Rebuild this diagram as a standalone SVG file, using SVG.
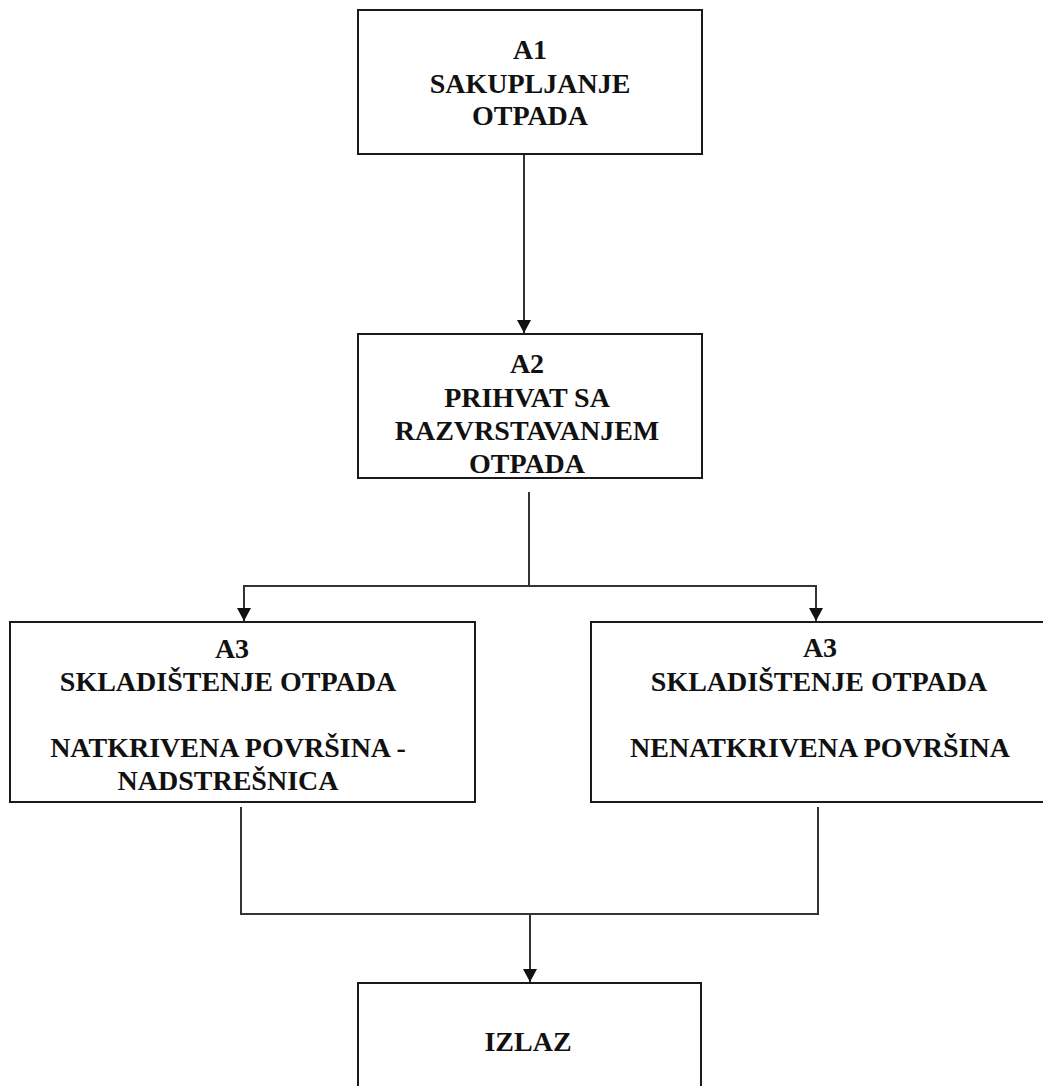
<svg xmlns="http://www.w3.org/2000/svg" width="1043" height="1086" viewBox="0 0 1043 1086">
<style>
.box{fill:#fff;stroke:#1a1a1a;stroke-width:2}
.lbl{font-family:"Liberation Serif","Times New Roman",serif;font-weight:bold;font-size:28px;fill:#111;text-anchor:middle}
.wire{fill:none;stroke:#333;stroke-width:2}
</style>
<defs>
<marker id="arr" markerUnits="userSpaceOnUse" markerWidth="14" markerHeight="14" refX="13" refY="7" orient="auto">
<path d="M0,0 L13,7 L0,14 Z" fill="#111"/>
</marker>
</defs>
<rect width="1043" height="1086" fill="#fff"/>
<g id="connectors">
<line class="wire" x1="524" y1="154" x2="524" y2="333" marker-end="url(#arr)"/>
<polyline class="wire" points="529,492 529,586"/>
<polyline class="wire" points="243,586 817,586"/>
<line class="wire" x1="244" y1="586" x2="244" y2="621" marker-end="url(#arr)"/>
<line class="wire" x1="816" y1="586" x2="816" y2="621" marker-end="url(#arr)"/>
<polyline class="wire" points="241,807 241,914 818,914 818,807"/>
<line class="wire" x1="530" y1="914" x2="530" y2="982" marker-end="url(#arr)"/>
</g>
<g id="a1">
<rect class="box" x="358" y="10" width="344" height="144"/>
<text class="lbl" x="530" y="59">A1</text>
<text class="lbl" x="530" y="93">SAKUPLJANJE</text>
<text class="lbl" x="530" y="125">OTPADA</text>
</g>
<g id="a2">
<rect class="box" x="358" y="334" width="344" height="144"/>
<text class="lbl" x="527" y="373">A2</text>
<text class="lbl" x="527" y="407">PRIHVAT SA</text>
<text class="lbl" x="527" y="440">RAZVRSTAVANJEM</text>
<text class="lbl" x="527" y="473">OTPADA</text>
</g>
<g id="a3-left">
<rect class="box" x="10" y="622" width="465" height="180"/>
<text class="lbl" x="232" y="658">A3</text>
<text class="lbl" x="228" y="691">SKLADIŠTENJE OTPADA</text>
<text class="lbl" x="228" y="757">NATKRIVENA POVRŠINA -</text>
<text class="lbl" x="228" y="790">NADSTREŠNICA</text>
</g>
<g id="a3-right">
<rect class="box" x="591" y="622" width="460" height="180"/>
<text class="lbl" x="820" y="657">A3</text>
<text class="lbl" x="819" y="691">SKLADIŠTENJE OTPADA</text>
<text class="lbl" x="820" y="757">NENATKRIVENA POVRŠINA</text>
</g>
<g id="izlaz">
<rect class="box" x="358" y="983" width="343" height="120"/>
<text class="lbl" x="528" y="1051">IZLAZ</text>
</g>
</svg>
